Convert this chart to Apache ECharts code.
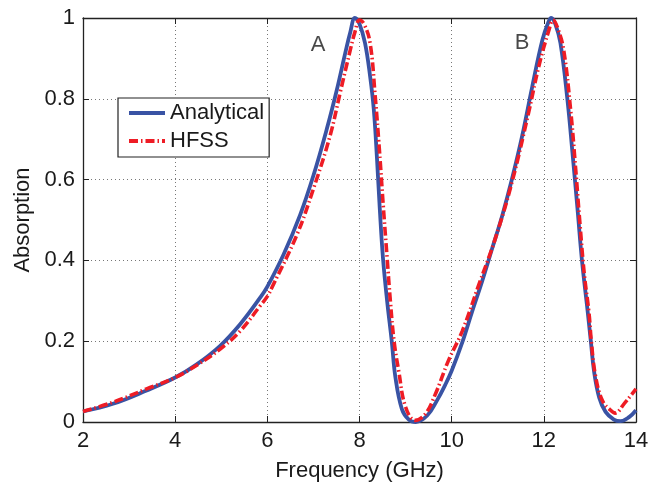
<!DOCTYPE html>
<html>
<head>
<meta charset="utf-8">
<script src="https://cdn.jsdelivr.net/npm/echarts@6/dist/echarts.min.js"></script>
<style>
html,body{margin:0;padding:0;background:#fff;}
#chart{width:661px;height:487px;}
</style>
</head>
<body>
<div id="chart"></div>
<script>
// Analytical (blue, solid)
var freqAnalytical = [2.0, 2.65, 3.38, 4.0, 4.46, 4.97, 5.41, 5.84, 6.0, 6.35, 6.71, 7.0, 7.29, 7.51, 7.69, 7.8, 7.9, 8.0, 8.12, 8.23, 8.31, 8.38, 8.44, 8.51, 8.6, 8.7, 8.78, 8.92, 9.07, 9.22, 9.47, 9.68, 9.86, 10.0, 10.23, 10.44, 10.66, 10.88, 11.1, 11.31, 11.53, 11.75, 11.97, 12.1, 12.16, 12.25, 12.36, 12.51, 12.62, 12.73, 12.83, 12.94, 13.02, 13.09, 13.2, 13.34, 13.52, 13.66, 13.85, 14.0];
var absAnalytical = [0.026, 0.045, 0.078, 0.11, 0.142, 0.188, 0.242, 0.307, 0.335, 0.414, 0.512, 0.61, 0.725, 0.823, 0.913, 0.965, 1.0, 0.985, 0.938, 0.856, 0.774, 0.651, 0.528, 0.405, 0.299, 0.2, 0.11, 0.032, 0.006, 0.0, 0.016, 0.053, 0.092, 0.127, 0.197, 0.272, 0.348, 0.43, 0.512, 0.602, 0.708, 0.831, 0.946, 0.99, 1.0, 0.985, 0.938, 0.8, 0.668, 0.528, 0.397, 0.285, 0.2, 0.125, 0.061, 0.025, 0.006, 0.002, 0.012, 0.029];
// HFSS (red, dash-dot)
var freqHFSS = [2.0, 2.65, 3.38, 4.0, 4.46, 4.97, 5.41, 5.84, 6.0, 6.13, 6.64, 7.0, 7.36, 7.58, 7.8, 7.9, 8.0, 8.1, 8.23, 8.34, 8.43, 8.52, 8.6, 8.67, 8.75, 8.85, 9.0, 9.21, 9.43, 9.65, 9.93, 10.23, 10.59, 10.95, 11.31, 11.67, 11.89, 12.11, 12.2, 12.3, 12.43, 12.58, 12.69, 12.78, 12.88, 12.98, 13.03, 13.12, 13.27, 13.45, 13.55, 13.74, 13.92, 14.0];
var absHFSS = [0.026, 0.049, 0.082, 0.11, 0.14, 0.18, 0.225, 0.287, 0.311, 0.34, 0.463, 0.577, 0.708, 0.815, 0.921, 0.965, 0.995, 0.985, 0.938, 0.807, 0.676, 0.528, 0.405, 0.299, 0.2, 0.127, 0.037, 0.004, 0.02, 0.07, 0.152, 0.225, 0.34, 0.455, 0.594, 0.766, 0.88, 0.97, 0.995, 0.975, 0.921, 0.774, 0.627, 0.496, 0.364, 0.27, 0.2, 0.115, 0.053, 0.029, 0.022, 0.045, 0.07, 0.082];
// Peak annotations
var peakLabels = ['A', 'B'];
var peakFreq = [7.1, 11.53];
var peakAbs = [0.934, 0.939];

var seriesNames = ['Analytical', 'HFSS'];
var xTitle = 'Frequency (GHz)';
var yTitle = 'Absorption';

var FONT = 'Liberation Sans, Arial, Helvetica, sans-serif';
var TXT = '#1a1a1a';
var chart = echarts.init(document.getElementById('chart'), null, {renderer: 'canvas'});

function pairs(xs, ys) { return xs.map(function (x, i) { return [x, ys[i]]; }); }

var gridLine = {show: true, lineStyle: {color: '#777', width: 1, type: [1, 3]}};
var axLine = {show: true, onZero: false, lineStyle: {color: '#222', width: 1.3}};
var axTick = {show: true, inside: true, length: 6, lineStyle: {color: '#222', width: 1}};

chart.setOption({
  animation: false,
  backgroundColor: '#fff',
  grid: {left: 83, right: 25, top: 18, bottom: 62, containLabel: false},
  xAxis: [{
    type: 'value', min: 2, max: 14, interval: 2, position: 'bottom',
    name: xTitle, nameLocation: 'middle', nameGap: 38,
    nameTextStyle: {fontFamily: FONT, fontSize: 22, color: TXT},
    axisLine: axLine, axisTick: axTick, splitLine: gridLine,
    axisLabel: {fontFamily: FONT, fontSize: 22, color: TXT, margin: 8}
  }, {
    type: 'value', min: 2, max: 14, interval: 2, position: 'top',
    axisLine: axLine, axisTick: axTick, splitLine: {show: false}, axisLabel: {show: false}
  }],
  yAxis: [{
    type: 'value', min: 0, max: 1, interval: 0.2, position: 'left',
    name: yTitle, nameLocation: 'middle', nameGap: 49, nameRotate: 90,
    nameTextStyle: {fontFamily: FONT, fontSize: 22, color: TXT},
    axisLine: axLine, axisTick: axTick, splitLine: gridLine,
    axisLabel: {fontFamily: FONT, fontSize: 22, color: TXT, margin: 8}
  }, {
    type: 'value', min: 0, max: 1, interval: 0.2, position: 'right',
    axisLine: axLine, axisTick: axTick, splitLine: {show: false}, axisLabel: {show: false}
  }],
  legend: {
    data: seriesNames,
    orient: 'vertical', left: 118, top: 98,
    padding: [4, 5, 5, 9], itemGap: 6,
    itemWidth: 36, itemHeight: 14,
    backgroundColor: '#fff', borderColor: '#222', borderWidth: 1.2, borderRadius: 0,
    itemStyle: {opacity: 0, borderWidth: 0, color: 'rgba(0,0,0,0)'},
    lineStyle: {width: 4},
    textStyle: {fontFamily: FONT, fontSize: 22, color: TXT, lineHeight: 22}
  },
  series: [{
    name: seriesNames[0], type: 'line', xAxisIndex: 0, yAxisIndex: 0,
    data: pairs(freqAnalytical, absAnalytical),
    smooth: 0.4, showSymbol: false, symbol: 'none', z: 3,
    lineStyle: {color: '#3953a4', width: 3.8, type: 'solid'},
    itemStyle: {color: '#3953a4'}
  }, {
    name: seriesNames[1], type: 'line', xAxisIndex: 0, yAxisIndex: 0,
    data: pairs(freqHFSS, absHFSS),
    smooth: 0.4, showSymbol: false, symbol: 'none', z: 4,
    lineStyle: {color: '#ee1c25', width: 3.6, type: [9, 3, 1.5, 3]},
    itemStyle: {color: '#ee1c25'}
  }, {
    name: 'labels', type: 'scatter', xAxisIndex: 0, yAxisIndex: 0,
    data: pairs(peakFreq, peakAbs).map(function (p, i) { return {value: p, name: peakLabels[i]}; }),
    symbolSize: 0, silent: true, z: 5,
    label: {show: true, position: 'inside', formatter: function (p) { return p.name; },
      fontFamily: FONT, fontSize: 22, color: TXT}
  }]
});
</script>
</body>
</html>
